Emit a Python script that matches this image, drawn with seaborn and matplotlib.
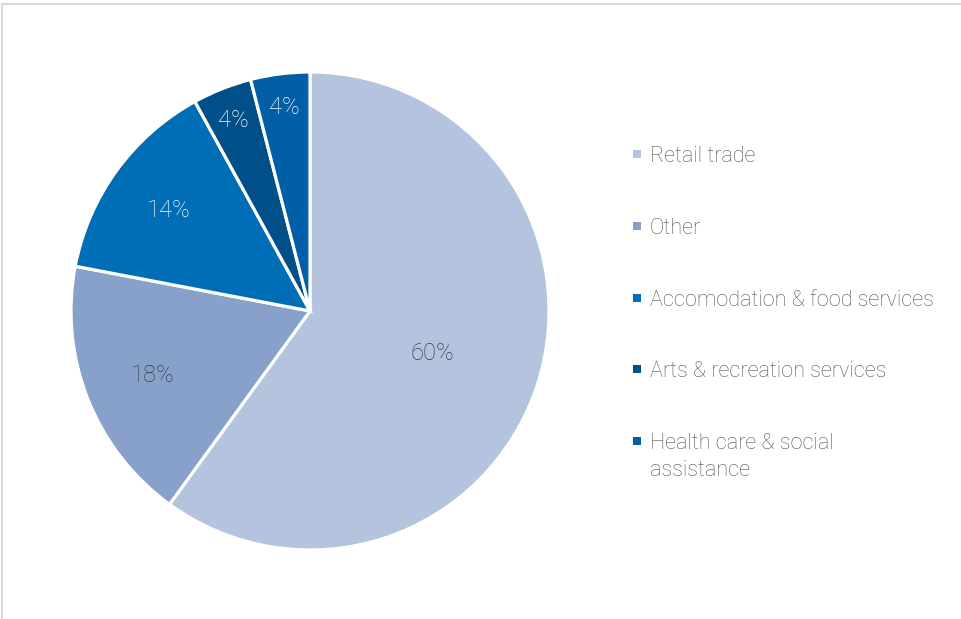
import numpy as np
import matplotlib
matplotlib.use("Agg")
import matplotlib.pyplot as plt
from matplotlib.patches import Rectangle
import seaborn as sns

# Share of businesses by industry
categories = ["Retail trade", "Other", "Accomodation & food services",
              "Arts & recreation services", "Health care & social\nassistance"]
shares = [60, 18, 14, 4, 4]
pct_labels = ["60%", "18%", "14%", "4%", "4%"]

colors = ["#B4C3DE", "#87A1CB", "#006EB6", "#004F88", "#005FA6"]
label_colors = ["#3F3F3F", "#3F3F3F", "white", "white", "white"]
label_radius = [0.54, 0.71, 0.73, 0.87, 0.87]

sns.set_theme(style="white")
plt.rcParams["font.family"] = ["Roboto", "DejaVu Sans"]

W, H = 961, 619
fig = plt.figure(figsize=(W / 100, H / 100), dpi=100)
fig.patch.set_facecolor("white")

# light frame along the top and left edges
fig.patches.append(Rectangle((2 / W, -0.1), 1.2, (H - 4) / H + 0.1,
                             transform=fig.transFigure, fill=False,
                             edgecolor="#D9D9D9", linewidth=1.5))

cx, cy, r = 310, 311, 239
ax = fig.add_axes([(cx - r) / W, (H - cy - r) / H, 2 * r / W, 2 * r / H])
wedges, _ = ax.pie(shares, colors=colors, startangle=90, counterclock=False,
                   radius=1.0, wedgeprops=dict(edgecolor="white", linewidth=2.3))
ax.set_xlim(-1, 1)
ax.set_ylim(-1, 1)
ax.set_aspect("equal")
ax.axis("off")

for w, txt, col, d in zip(wedges, pct_labels, label_colors, label_radius):
    ang = np.deg2rad((w.theta1 + w.theta2) / 2)
    ax.text(d * np.cos(ang), d * np.sin(ang), txt, ha="center",
            va="center_baseline", fontsize=17, color=col, fontweight="light")

# legend drawn in pixel coordinates
lax = fig.add_axes([0, 0, 1, 1])
lax.set_xlim(0, W)
lax.set_ylim(H, 0)
lax.axis("off")
leg_y = [154, 226, 298, 369, 441]
line_gap = 27
for cat, col, y in zip(categories, colors, leg_y):
    lax.scatter([637], [y], marker="s", s=40, color=col, linewidths=0)
    for i, line in enumerate(cat.split("\n")):
        lax.text(650, y + i * line_gap, line, ha="left", va="center_baseline",
                 fontsize=15.6, color="#555555", fontweight="light")

fig.savefig("out.png", dpi=100, facecolor="white")
